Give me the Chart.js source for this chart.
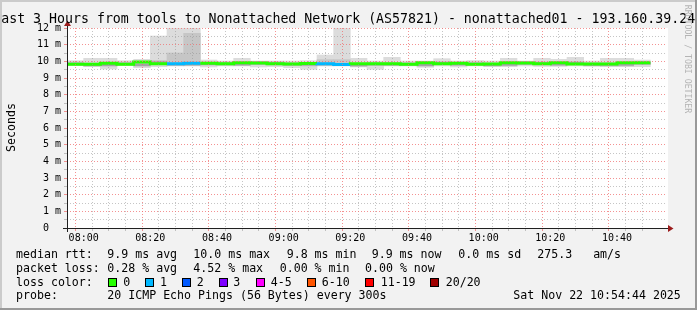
<!DOCTYPE html>
<html><head><meta charset="utf-8">
<script src="https://cdn.jsdelivr.net/npm/chart.js@4/dist/chart.umd.min.js"></script>
<style>html,body{margin:0;padding:0;background:#f2f2f2;overflow:hidden}#wrap{width:697px;height:310px;position:relative}canvas{display:block}</style>
</head><body><div id="wrap"><canvas id="c" width="697" height="310"></canvas></div>
<script>
// ---- data (5-minute steps starting 07:55) ----
const stepMinutes = 5;
const timeLabels = ['08:00','08:20','08:40','09:00','09:20','09:40','10:00','10:20','10:40'];
const timeLabelOffsets = [5,25,45,65,85,105,125,145,165]; // minutes after 07:55
const yTickLabels = ['0  ','1 m','2 m','3 m','4 m','5 m','6 m','7 m','8 m','9 m','10 m','11 m','12 m'];
const medianMs = [9.88,9.82,9.82,9.88,9.82,9.96,9.86,9.86,9.88,9.88,
                  9.86,9.92,9.90,9.86,9.84,9.87,9.86,9.81,9.86,9.86,
                  9.86,9.82,9.92,9.86,9.88,9.82,9.84,9.92,9.90,9.86,
                  9.92,9.84,9.84,9.84,9.92];
const lossCount = [0,0,0,0,0,0,1,1,0,0, 0,0,0,0,0,1,1,0,0,0, 0,0,0,0,0,0,0,0,0,0, 0,0,0,0,0];
const smokeMax = [10.04,10.18,10.18,10.04,10.12,11.52,12.0,12.0,10.08,10.02,
                  10.18,10.02,10.02,10.02,10.04,10.38,12.0,10.18,10.02,10.24,
                  10.02,10.02,10.16,10.02,10.05,10.02,10.18,10.02,10.18,10.12,
                  10.24,10.02,10.18,10.18,10.08];
const smokeMin = [9.74,9.68,9.54,9.74,9.62,9.68,9.72,9.72,9.66,9.72,
                  9.72,9.66,9.68,9.62,9.52,9.72,9.72,9.66,9.52,9.72,
                  9.72,9.64,9.72,9.66,9.72,9.70,9.69,9.72,9.69,9.69,
                  9.72,9.72,9.68,9.68,9.68];
const smokeMidHigh = [9.96,9.90,9.90,9.96,9.90,10.05,10.50,11.68,9.96,9.96,
                      9.94,10.00,9.98,9.94,9.92,10.10,10.10,9.89,9.94,9.94,
                      9.94,9.90,10.00,9.94,9.96,9.90,9.92,10.00,9.98,9.94,
                      10.00,9.92,9.92,9.92,10.00];
const smokeMidLow = [9.76,9.70,9.70,9.76,9.70,9.84,9.74,9.74,9.76,9.76,
                     9.74,9.80,9.78,9.74,9.72,9.75,9.74,9.69,9.74,9.74,
                     9.74,9.70,9.80,9.74,9.76,9.70,9.72,9.80,9.78,9.74,
                     9.80,9.72,9.72,9.72,9.80];
const smokeInnerHigh = [9.90,9.84,9.84,9.90,9.84,9.98,9.88,9.88,9.90,9.90,
                        9.88,9.94,9.92,9.88,9.86,9.89,9.88,9.83,9.88,9.88,
                        9.88,9.84,9.94,9.88,9.90,9.84,9.86,9.94,9.92,9.88,
                        9.94,9.86,9.86,9.86,9.94];
const smokeInnerLow = [9.80,9.74,9.74,9.80,9.74,9.88,9.78,9.78,9.80,9.80,
                       9.78,9.84,9.82,9.78,9.76,9.79,9.78,9.73,9.78,9.78,
                       9.78,9.74,9.84,9.78,9.80,9.74,9.76,9.84,9.82,9.78,
                       9.84,9.76,9.76,9.76,9.84];
const lossLegend = ['0','1','2','3','4-5','6-10','11-19','20/20'];
const lossColors = ['#26ff00','#00b8ff','#0059ff','#7e00ff','#ff00ff','#ff5500','#ff0000','#a00000'];

const MONO = '"DejaVu Sans Mono", monospace';
const MAJOR = 'rgba(240,110,110,0.75)';
const MINOR = 'rgba(150,150,150,0.55)';
const NONE = 'rgba(0,0,0,0)';

function lossIdx(n){ if(n<=3) return n; if(n<=5) return 4; if(n<=10) return 5; if(n<=19) return 6; return 7; }
const centers = medianMs.map((_, i) => i*stepMinutes + stepMinutes/2);
const barSet = (lo, hi) => centers.map((x, i) => ({x, y:[lo[i], hi[i]]}));
const medianPts = medianMs.map((v, i) => ({x: i*stepMinutes, y: v}));
medianPts.push({x: medianMs.length*stepMinutes, y: medianMs[medianMs.length-1]});

const deco = {
  id:'deco',
  beforeDraw(chart){
    const ctx = chart.ctx, a = chart.chartArea;
    ctx.save();
    ctx.fillStyle = '#f2f2f2'; ctx.fillRect(0,0,chart.width,chart.height);
    ctx.fillStyle = '#ffffff'; ctx.fillRect(a.left, a.top, a.right-a.left+1, a.bottom-a.top);
    ctx.restore();
  },
  afterDraw(chart){
    const ctx = chart.ctx, a = chart.chartArea;
    ctx.save();
    // axes
    ctx.strokeStyle = '#202020'; ctx.lineWidth = 1;
    ctx.beginPath();
    ctx.moveTo(a.left-4, a.bottom+0.5); ctx.lineTo(a.right+2, a.bottom+0.5);
    ctx.moveTo(a.left+0.5, a.bottom+4); ctx.lineTo(a.left+0.5, a.top-3);
    ctx.stroke();
    ctx.fillStyle = '#9b1c1c';
    ctx.beginPath();
    ctx.moveTo(a.right+1, a.bottom-3); ctx.lineTo(a.right+1, a.bottom+4); ctx.lineTo(a.right+6.5, a.bottom+0.5); ctx.closePath(); ctx.fill();
    ctx.beginPath();
    ctx.moveTo(a.left-3, a.top-2); ctx.lineTo(a.left+4, a.top-2); ctx.lineTo(a.left+0.5, a.top-7.5); ctx.closePath(); ctx.fill();
    // title
    ctx.fillStyle = '#000';
    ctx.font = '13.25px ' + MONO; ctx.textBaseline = 'alphabetic'; ctx.textAlign = 'left';
    ctx.fillText('Last 3 Hours from tools to Nonattached Network (AS57821) - nonattached01 - 193.160.39.24', -6.8, 23);
    // y title
    ctx.save(); ctx.translate(15, 127.5); ctx.rotate(-Math.PI/2);
    ctx.font = '11.6px ' + MONO; ctx.textAlign = 'center'; ctx.textBaseline = 'alphabetic';
    ctx.fillText('Seconds', 0, 0); ctx.restore();
    // watermark
    ctx.save(); ctx.translate(685, 59); ctx.rotate(Math.PI/2);
    ctx.font = '8.2px ' + MONO; ctx.textAlign = 'center'; ctx.textBaseline = 'alphabetic';
    ctx.fillStyle = '#b4b4b4'; ctx.fillText('RRDTOOL / TOBI OETIKER', 0, 0); ctx.restore();
    // legend
    ctx.font = '11.6px ' + MONO; ctx.fillStyle = '#000'; ctx.textAlign = 'left';
    const t = (s, x, y) => ctx.fillText(s, x, y);
    t('median rtt:', 16, 258.3); t('9.9 ms avg', 107.3, 258.3); t('10.0 ms max', 193.3, 258.3);
    t('9.8 ms min', 286.7, 258.3); t('9.9 ms now', 371.7, 258.3); t('0.0 ms sd', 458.3, 258.3); t('275.3   am/s', 537.3, 258.3);
    t('packet loss:', 16, 271.7); t('0.28 % avg', 107.3, 271.7); t('4.52 % max', 193.3, 271.7);
    t('0.00 % min', 279.7, 271.7); t('0.00 % now', 365, 271.7);
    t('loss color:', 16, 286);
    const boxX = [108.5, 145.5, 182.5, 219.5, 256.5, 307.5, 365.5, 430.5];
    const labX = [123.3, 160, 196.7, 233.3, 270.7, 321.7, 380.7, 445.7];
    lossLegend.forEach((lab, i) => {
      ctx.fillStyle = lossColors[i]; ctx.fillRect(boxX[i], 278.5, 8, 8);
      ctx.strokeStyle = '#000'; ctx.lineWidth = 1; ctx.strokeRect(boxX[i], 278.5, 8, 8);
      ctx.fillStyle = '#000'; t(lab, labX[i], 286);
    });
    t('probe:', 16, 299.3); t('20 ICMP Echo Pings (56 Bytes) every 300s', 107.3, 299.3);
    t('Sat Nov 22 10:54:44 2025', 513.3, 299.3);
    // frame
    ctx.fillStyle = '#cbcbcb'; ctx.fillRect(0,0,chart.width,2); ctx.fillRect(0,0,2,chart.height);
    ctx.fillStyle = '#999999'; ctx.fillRect(0,chart.height-2,chart.width,2); ctx.fillRect(chart.width-2,0,2,chart.height);
    ctx.restore();
  }
};

const xCol = c => { if(!c.tick) return NONE; const v=c.tick.value; if(v===0||v===180) return NONE; return timeLabelOffsets.includes(v) ? MAJOR : MINOR; };
const yCol = c => { if(!c.tick) return NONE; const v=c.tick.value; if(v===0) return NONE; return Number.isInteger(v) ? MAJOR : MINOR; };
new Chart(document.getElementById('c'), {
  type: 'bar',
  data: { datasets: [
    { type:'line', data: medianPts, stepped:'after', borderWidth:3, pointRadius:0, borderCapStyle:'butt',
      borderColor: lossColors[0], segment:{ borderColor: c => lossColors[lossIdx(lossCount[c.p0DataIndex])] }, order:0 },
    { data: barSet(smokeInnerLow, smokeInnerHigh), backgroundColor:'#a4a4a4', grouped:false, barPercentage:1, categoryPercentage:1, order:1 },
    { data: barSet(smokeMidLow, smokeMidHigh), backgroundColor:'#c6c6c6', grouped:false, barPercentage:1, categoryPercentage:1, order:2 },
    { data: barSet(smokeMin, smokeMax), backgroundColor:'#dcdcdc', grouped:false, barPercentage:1, categoryPercentage:1, order:3 }
  ]},
  options: {
    responsive:false, animation:false, devicePixelRatio:1,
    layout:{ padding:{ left:0, right:30, top:28, bottom:0 } },
    plugins:{ legend:{display:false}, tooltip:{enabled:false} },
    scales:{
      x:{ type:'linear', min:0, max:180, offset:false,
        afterBuildTicks: s => { const a=[]; for(let v=0; v<=180; v+=stepMinutes) a.push({value:v}); s.ticks=a; },
        afterFit: s => { s.height = 82; },
        grid:{ z:1, lineWidth:1, tickLength:3, tickBorderDash:[], color: xCol, tickColor: xCol },
        border:{ display:false, dash:[1,2] },
        ticks:{ autoSkip:false, maxRotation:0, minRotation:0, padding:1, color:'#000', font:{family:MONO, size:10},
          callback: v => { const k = timeLabelOffsets.indexOf(v); return k>=0 ? timeLabels[k] : ''; } }
      },
      y:{ min:0, max:12,
        afterBuildTicks: s => { const a=[]; for(let v=0; v<=24; v++) a.push({value:v/2}); s.ticks=a; },
        afterFit: s => { s.width = 67; },
        grid:{ z:1, lineWidth:1, tickLength:3, tickBorderDash:[], color: yCol, tickColor: yCol },
        border:{ display:false, dash:[1,2] },
        ticks:{ autoSkip:false, padding:3, color:'#000', font:{family:MONO, size:10},
          callback: v => Number.isInteger(v) ? yTickLabels[v] : '' }
      }
    }
  },
  plugins:[deco]
});
</script></body></html>
